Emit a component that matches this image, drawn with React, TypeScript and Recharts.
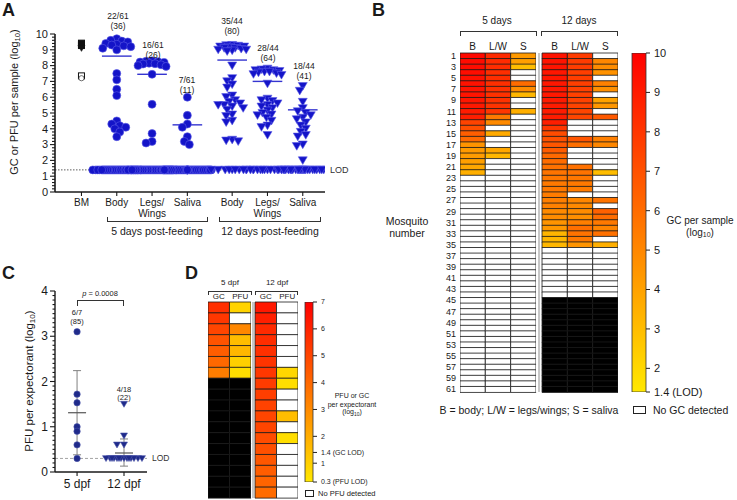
import React from "react";
import {
  ScatterChart,
  Scatter,
  XAxis,
  YAxis,
  ReferenceLine,
  ErrorBar,
  BarChart,
  Bar,
  Cell,
} from "recharts";

const FONT = '"Liberation Sans", Arial, Helvetica, sans-serif';
const INK = "#1a1a1a";
const BLUE = "#1414c8";
const NAVY = "#1f2a8a";

// ---------- Panel A : GC or PFU per sample (log10) ----------
const aLabels = ["BM", "Body", "Legs/\nWings", "Saliva", "Body", "Legs/\nWings", "Saliva"];
const aPos = [0, 1, 2, 3, 4.27, 5.27, 6.27];
const aLod = 1.4;
const bmFilledSquare = [9.42, 9.35, 9.27];
const bmFilledTri = [9.1];
const bmOpenSquare = [7.35];
const bmOpenCircle = [7.2];
const body5 = [9.7, 9.6, 9.55, 9.5, 9.4, 9.35, 9.3, 9.25, 9.2, 9.1, 9.0, 7.5, 7.1, 6.5, 6.1, 4.5, 4.3, 4.2, 4.1, 4.0, 3.8, 3.5];
const legs5 = [8.3, 8.28, 8.25, 8.22, 8.2, 8.15, 8.12, 8.1, 8.05, 8.0, 7.95, 7.45, 5.55, 3.7, 3.2, 3.1];
const saliva5 = [6.0, 4.85, 4.3, 4.1, 3.5, 3.2, 3.0];
const body12 = [9.3, 9.28, 9.25, 9.2, 9.2, 9.15, 9.1, 9.1, 9.05, 9.0, 9.0, 8.95, 8.9, 8.0, 7.2, 7.0, 6.8, 6.6, 6.1, 6.0, 5.8, 5.7, 5.6, 5.5, 5.5, 5.4, 5.3, 5.2, 4.9, 4.8, 4.5, 4.4, 3.3, 3.25, 3.2];
const legs12 = [7.8, 7.75, 7.7, 7.7, 7.65, 7.6, 7.55, 7.5, 7.45, 7.4, 7.6, 6.85, 5.9, 5.8, 5.75, 5.6, 5.5, 5.4, 5.3, 5.15, 5.0, 4.9, 4.85, 4.7, 4.5, 4.2, 4.1, 3.6];
const saliva12 = [6.7, 6.4, 5.7, 5.3, 5.1, 5.0, 4.85, 4.7, 4.6, 4.4, 4.2, 4.0, 3.8, 3.6, 3.5, 3.0, 2.9, 2.0];
const aLodCounts = [39, 45, 54, 9, 16, 26];
const aMeans = [8.6, 7.45, 4.25, 8.35, 7.0, 5.2];
const aPositive = ["22/61", "16/61", "7/61", "35/44", "28/44", "18/44"];
const aPercent = ["(36)", "(26)", "(11)", "(80)", "(64)", "(41)"];

// ---------- Panel B : heat map, GC per sample (log10) ----------
const bHeaders = ["B", "L/W", "S", "B", "L/W", "S"];
const bRows = 61;
const bTested = [61, 61, 61, 44, 44, 44];
const hmBody5 = [9.7, 9.6, 9.55, 9.5, 9.4, 9.35, 9.3, 9.25, 9.2, 9.1, 9.0, 8.9, 7.5, 7.1, 6.5, 6.1, 4.5, 4.3, 4.2, 4.1, 3.8, 3.5];
const hmLegs5 = [8.45, 8.4, 8.35, 8.3, 8.3, 8.25, 8.2, 8.2, 8.15, 8.1, 8.0, 5.5, 4.9, 0, 3.7, 0, 0, 3.8, 3.2];
const hmSaliva5 = [4.3, 4.1, 3.0, 0, 0, 6.0, 4.85, 3.2, 0, 0, 3.5];
const hmBody12 = [9.3, 9.28, 9.25, 9.2, 9.2, 9.15, 9.1, 9.1, 9.05, 9.0, 9.0, 8.95, 8.9, 8.0, 7.2, 7.0, 6.8, 6.6, 6.1, 6.0, 5.8, 5.7, 5.6, 5.5, 5.5, 5.4, 5.3, 5.2, 4.9, 4.8, 4.5, 4.4, 3.3, 3.25, 3.2];
const hmLegs12 = [7.8, 7.8, 7.75, 7.7, 7.7, 7.65, 7.6, 7.6, 7.55, 7.5, 7.45, 7.4, 0, 0, 0, 6.85, 5.9, 0, 0, 0, 5.8, 5.75, 5.6, 5.5, 5.4, 0, 5.0, 4.9, 4.8, 4.7, 5.3, 5.9, 5.75, 5.5, 4.5];
const hmSaliva12 = [0, 5.0, 4.8, 4.6, 0, 5.2, 4.7, 0, 4.0, 4.4, 0, 6.7, 0, 0, 0, 5.3, 5.0, 0, 0, 0, 0, 3.0, 0, 0, 0, 0, 5.7, 0, 6.4, 6.0, 5.5, 5.1, 5.8, 0, 3.5];
const bBarTicks = [1.4, 2, 3, 4, 5, 6, 7, 8, 9, 10];

// ---------- Panel C : PFU per expectorant (log10) ----------
const cLabels = ["5 dpf", "12 dpf"];
const cLod = 0.3;
const pfu5 = [3.1, 1.72, 1.53, 1.0, 0.9, 0.6, 0.3];
const pfu12 = [1.5, 0.8, 0.6, 0.6];
const pfu12LodCount = 14;
const cMeans = [1.31, 0.42];
const cSdLow = [0.93, 0.29];
const cSdHigh = [0.93, 0.31];

// ---------- Panel D : heat map, PFU or GC per expectorant ----------
const dHeaders = ["GC", "PFU", "GC", "PFU"];
const dRows = 18;
const dTested = [7, 7, 18, 18];
const dGc5 = [5.6, 5.4, 5.0, 4.6, 4.3, 4.0, 3.4];
const dPfu5 = [0.9, 0, 3.1, 1.53, 1.72, 1.0, 0.6];
const dGc12 = [6.3, 6.1, 5.8, 5.7, 5.6, 5.5, 5.4, 5.3, 5.2, 5.1, 5.0, 5.0, 4.8, 4.7, 4.5, 4.3, 4.1, 3.9];
const dPfu12 = [0, 0, 0, 0, 0, 0, 0.8, 0.6, 0, 0, 1.5, 0, 0.6];
const dBarTicks = [0.3, 1, 1.4, 2, 3, 4, 5, 6, 7];

// ---------- helpers ----------
// simple beeswarm: offsets in px, converted back to x units
function swarm(values: number[], xc: number, pxX: number, pxY: number, d: number, maxW: number) {
  const placed: { o: number; py: number }[] = [];
  return values.map((v) => {
    const py = v * pxY;
    let best = 0;
    let bestScore = -1;
    for (let k = 0; k <= 2 * maxW; k++) {
      const o = k % 2 === 0 ? k / 2 : -(k + 1) / 2;
      let minD = Infinity;
      for (const p of placed) {
        const dd = Math.hypot(o - p.o, py - p.py);
        if (dd < minD) minD = dd;
      }
      if (minD >= d) {
        best = o;
        break;
      }
      if (minD > bestScore) {
        bestScore = minD;
        best = o;
      }
    }
    placed.push({ o: best, py });
    return { x: xc + best / pxX, y: v };
  });
}

const fill = (n: number, v: number) => Array.from({ length: n }, () => v);

const colorB = (v: number) => {
  const g = Math.max(0, Math.min(232, Math.round((232 * (10 - v)) / 8.6)));
  return `rgb(255,${g},0)`;
};
const colorD = (v: number) => {
  const g = Math.max(0, Math.min(232, Math.round((232 * (7 - v)) / 6.7)));
  return `rgb(255,${g},0)`;
};

const T = ({ x, y, s = 10, a = "middle", children, style }: any) => (
  <div
    style={{
      position: "absolute",
      left: x,
      top: y,
      transform: `translate(${a === "middle" ? "-50%" : a === "end" ? "-100%" : "0"}, -50%)`,
      fontSize: s,
      lineHeight: 1,
      whiteSpace: "nowrap",
      color: INK,
      ...style,
    }}
  >
    {children}
  </div>
);

const VT = ({ x, y, s = 11, children }: any) => (
  <div
    style={{
      position: "absolute",
      left: x,
      top: y,
      transform: "translate(-50%, -50%) rotate(-90deg)",
      fontSize: s,
      lineHeight: 1,
      whiteSpace: "nowrap",
      color: INK,
    }}
  >
    {children}
  </div>
);

const Bracket = ({ x1, x2, y, h = 5, up = false }: any) => (
  <div
    style={{
      position: "absolute",
      left: x1,
      top: up ? y - h : y,
      width: x2 - x1,
      height: h,
      boxSizing: "border-box",
      borderLeft: "1.3px solid #333",
      borderRight: "1.3px solid #333",
      borderTop: up ? "none" : "1.3px solid #333",
      borderBottom: up ? "1.3px solid #333" : "none",
    }}
  />
);

const Letter = ({ x, y, children }: any) => (
  <div style={{ position: "absolute", left: x, top: y, fontSize: 18, fontWeight: 700, lineHeight: 1.1 }}>{children}</div>
);

const sub = (t: string) => <sub style={{ fontSize: "0.7em", verticalAlign: "-0.25em" }}>{t}</sub>;

// ---------- shapes ----------
const dot = (r: number, f: string, s: string) => (p: any) => (
  <circle cx={p.cx} cy={p.cy} r={r} fill={f} stroke={s} strokeWidth={0.6} />
);
const triDown = (w: number, f: string, s: string) => (p: any) => (
  <path
    d={`M${p.cx - w / 2},${p.cy - w * 0.4}L${p.cx + w / 2},${p.cy - w * 0.4}L${p.cx},${p.cy + w * 0.45}Z`}
    fill={f}
    stroke={s}
    strokeWidth={0.6}
  />
);
const square = (w: number, f: string, s: string) => (p: any) => (
  <rect x={p.cx - w / 2} y={p.cy - w / 2} width={w} height={w} fill={f} stroke={s} strokeWidth={1} />
);

const yTick = (major: number, minor: number, fs: number) => (p: any) => {
  const v = p.payload.value;
  const isMajor = Math.abs(v - Math.round(v)) < 1e-6;
  return (
    <g>
      <line x1={p.x - (isMajor ? major : minor)} x2={p.x} y1={p.y} y2={p.y} stroke={INK} strokeWidth={1.1} />
      {isMajor && (
        <text x={p.x - major - 2} y={p.y} dy="0.35em" textAnchor="end" fontSize={fs} fill={INK} fontFamily={FONT}>
          {Math.round(v)}
        </text>
      )}
    </g>
  );
};

// ---------- Panel A ----------
const A_PX_X = 270 / 7.65;
const A_PX_Y = 15.8;
const aGroups = [body5, legs5, saliva5, body12, legs12, saliva12];
const aPoints = aGroups.map((vals, i) =>
  swarm([...vals].sort((p, q) => q - p), aPos[i + 1], A_PX_X, A_PX_Y, 5.5, 14).concat(
    swarm(fill(aLodCounts[i], aLod), aPos[i + 1], A_PX_X, A_PX_Y, 7, 24)
  )
);
const aTicks = Array.from({ length: 51 }, (_, i) => Math.round(i * 2) / 10);

const XTickA = (p: any) => {
  const idx = aPos.findIndex((v) => Math.abs(v - p.payload.value) < 1e-6);
  const lines = (aLabels[idx] || "").split("\n");
  return (
    <g>
      <line x1={p.x} x2={p.x} y1={p.y} y2={p.y + 4} stroke={INK} strokeWidth={1.1} />
      <text x={p.x} y={p.y + 14} textAnchor="middle" fontSize={10} fill={INK} fontFamily={FONT}>
        {lines.map((l: string, i: number) => (
          <tspan key={i} x={p.x} dy={i === 0 ? 0 : 10.5}>
            {l}
          </tspan>
        ))}
      </text>
    </g>
  );
};

function PanelA() {
  return (
    <div style={{ position: "absolute", left: 0, top: 0 }}>
      <ScatterChart width={370} height={250} margin={{ top: 34, right: 45, bottom: 38, left: 25 }}>
        <XAxis
          type="number"
          dataKey="x"
          domain={[-0.75, 6.9]}
          ticks={aPos}
          interval={0}
          tick={XTickA}
          tickSize={0}
          tickMargin={0}
          height={20}
          tickLine={false}
          axisLine={{ stroke: INK, strokeWidth: 1.6 }}
          allowDataOverflow
        />
        <YAxis
          type="number"
          dataKey="y"
          domain={[0, 10]}
          ticks={aTicks}
          interval={0}
          tick={yTick(5, 3, 11)}
          tickSize={0}
          tickMargin={0}
          width={30}
          tickLine={false}
          axisLine={{ stroke: INK, strokeWidth: 1.6 }}
          allowDataOverflow
        />
        <ReferenceLine
          y={aLod}
          stroke="#333"
          strokeDasharray="1.5 1.5"
          strokeWidth={0.8}
          label={{ value: "LOD", position: "right", fontSize: 9, fill: "#333" }}
        />
        <Scatter data={bmFilledSquare.map((y) => ({ x: aPos[0], y }))} shape={square(6, "#111", "#111")} isAnimationActive={false} />
        <Scatter data={bmFilledTri.map((y) => ({ x: aPos[0], y }))} shape={triDown(7, "#111", "#111")} isAnimationActive={false} />
        <Scatter data={bmOpenSquare.map((y) => ({ x: aPos[0], y }))} shape={square(6, "#fff", "#111")} isAnimationActive={false} />
        <Scatter data={bmOpenCircle.map((y) => ({ x: aPos[0], y }))} shape={dot(2.6, "#fff", "#111")} isAnimationActive={false} />
        {aPoints.map((pts, i) => (
          <Scatter
            key={i}
            data={pts}
            shape={i < 3 ? dot(4, BLUE, "#5a5ae6") : triDown(9, BLUE, "#5a5ae6")}
            isAnimationActive={false}
          />
        ))}
        {aMeans.map((m, i) => (
          <ReferenceLine
            key={"m" + i}
            segment={[
              { x: aPos[i + 1] - 0.42, y: m },
              { x: aPos[i + 1] + 0.42, y: m },
            ]}
            stroke="#3535d0"
            strokeWidth={1.4}
          />
        ))}
      </ScatterChart>
    </div>
  );
}

// ---------- Panel C ----------
const C_PX_X = 47;
const C_PX_Y = 45.25;
const c5Points = pfu5.map((y) => ({ x: 0, y }));
const c12Points = swarm(pfu12, 1, C_PX_X, C_PX_Y, 6.5, 10).concat(
  swarm(fill(pfu12LodCount, cLod), 1, C_PX_X, C_PX_Y, 6.5, 18)
);
const cStats = cMeans.map((m, i) => ({ x: i, y: m, sd: [cSdLow[i], cSdHigh[i]] }));
const cTicks = Array.from({ length: 41 }, (_, i) => Math.round(i) / 10);

const XTickC = (p: any) => (
  <g>
    <line x1={p.x} x2={p.x} y1={p.y} y2={p.y + 4} stroke={INK} strokeWidth={1.1} />
    <text x={p.x} y={p.y + 16} textAnchor="middle" fontSize={12} fill={INK} fontFamily={FONT}>
      {cLabels[Math.round(p.payload.value)]}
    </text>
  </g>
);

function PanelC() {
  return (
    <div style={{ position: "absolute", left: 0, top: 250 }}>
      <ScatterChart width={185} height={250} margin={{ top: 41, right: 38, bottom: 8, left: 30 }}>
        <XAxis
          type="number"
          dataKey="x"
          domain={[-0.47, 1.49]}
          ticks={[0, 1]}
          interval={0}
          tick={XTickC}
          tickSize={0}
          tickMargin={0}
          height={20}
          tickLine={false}
          axisLine={{ stroke: INK, strokeWidth: 1.4 }}
          allowDataOverflow
        />
        <YAxis
          type="number"
          dataKey="y"
          domain={[0, 4]}
          ticks={cTicks}
          interval={0}
          tick={yTick(5, 2.5, 12)}
          tickSize={0}
          tickMargin={0}
          width={25}
          tickLine={false}
          axisLine={{ stroke: INK, strokeWidth: 1.4 }}
          allowDataOverflow
        />
        <ReferenceLine
          y={cLod}
          stroke="#9a9a9a"
          strokeDasharray="3 2"
          strokeWidth={0.9}
          label={{ value: "LOD", position: "right", fontSize: 8.5, fill: "#333" }}
        />
        <Scatter data={cStats} shape={(p: any) => <line x1={p.cx - 9} x2={p.cx + 9} y1={p.cy} y2={p.cy} stroke="#555" strokeWidth={1.2} />} isAnimationActive={false}>
          <ErrorBar dataKey="sd" direction="y" width={4} stroke="#808080" strokeWidth={1} />
        </Scatter>
        <Scatter data={c5Points} shape={dot(3.2, NAVY, "#4b55aa")} isAnimationActive={false} />
        <Scatter data={c12Points} shape={triDown(7, NAVY, "#4b55aa")} isAnimationActive={false} />
      </ScatterChart>
    </div>
  );
}

// ---------- heat map + colour bar ----------
function Heatmap({ left, top, width, height, margin, nRows, cols, tested, gap, headers, color, yW, rowFont, headFont, headH, showRows }: any) {
  const keys = cols.map((_: any, i: number) => "c" + i);
  const data = Array.from({ length: nRows }, (_, r) => {
    const o: any = { row: r + 1, gap };
    keys.forEach((k: string) => (o[k] = 1));
    return o;
  });
  const half = cols.length / 2;
  const hTicks = cols.map((_: any, i: number) => i + 0.5 + (i >= half ? gap : 0));
  const cellFill = (ci: number, r: number) => {
    if (r + 1 > tested[ci]) return "#000";
    const v = cols[ci][r];
    return v ? color(v) : "#fff";
  };
  const bars = keys.flatMap((k: string, ci: number) => {
    const b = (
      <Bar key={k} dataKey={k} stackId="s" isAnimationActive={false}>
        {data.map((_, r) => (
          <Cell key={r} fill={cellFill(ci, r)} stroke="#1a1a1a" strokeWidth={0.8} />
        ))}
      </Bar>
    );
    return ci === half
      ? [<Bar key="gap" dataKey="gap" stackId="s" fill="#fff" isAnimationActive={false} />, b]
      : [b];
  });
  return (
    <div style={{ position: "absolute", left, top }}>
      <BarChart layout="vertical" width={width} height={height} data={data} margin={margin} barCategoryGap={0}>
        <XAxis
          type="number"
          orientation="top"
          domain={[0, cols.length + gap]}
          ticks={hTicks}
          interval={0}
          tickFormatter={(v: number) => headers[hTicks.findIndex((t: number) => Math.abs(t - v) < 1e-6)]}
          axisLine={false}
          tickLine={false}
          tickSize={0}
          tickMargin={3}
          height={headH}
          tick={{ fontSize: headFont, fill: INK, fontFamily: FONT }}
          allowDataOverflow
        />
        <YAxis
          type="category"
          dataKey="row"
          hide={!showRows}
          width={yW}
          interval={0}
          tickFormatter={(v: number) => (v % 2 ? String(v) : "")}
          axisLine={false}
          tickLine={false}
          tickSize={0}
          tickMargin={4}
          tick={{ fontSize: rowFont, fill: INK, fontFamily: FONT }}
        />
        {bars}
        <ReferenceLine x={half + gap / 2} stroke="#b5b5b5" strokeWidth={1.5} />
      </BarChart>
    </div>
  );
}

function ColorBar({ id, left, top, width, height, margin, lo, hi, ticks, fmt, c0, c1, fs, yW }: any) {
  const tick = (p: any) => (
    <text x={p.x} y={p.y} dy="0.35em" textAnchor="start" fontSize={fs} fill={INK} fontFamily={FONT}>
      {fmt(p.payload.value)}
    </text>
  );
  return (
    <div style={{ position: "absolute", left, top }}>
      <BarChart width={width} height={height} data={[{ k: "c", r: [lo, hi] }]} margin={margin} barCategoryGap={0}>
        <defs>
          <linearGradient id={id} x1="0" y1="0" x2="0" y2="1">
            <stop offset="0" stopColor={c0} />
            <stop offset="1" stopColor={c1} />
          </linearGradient>
        </defs>
        <XAxis dataKey="k" type="category" hide />
        <YAxis
          orientation="right"
          type="number"
          domain={[lo, hi]}
          ticks={ticks}
          interval={0}
          width={yW}
          axisLine={false}
          tickSize={4}
          tickMargin={4}
          tickLine={{ stroke: "#222" }}
          tick={tick}
          allowDataOverflow
        />
        <Bar dataKey="r" fill={`url(#${id})`} stroke="#333" strokeWidth={0.8} isAnimationActive={false} />
      </BarChart>
    </div>
  );
}

export default function App() {
  return (
    <div
      style={{
        position: "absolute",
        left: 0,
        top: 0,
        width: 737,
        height: 500,
        overflow: "hidden",
        background: "#fff",
        fontFamily: FONT,
        color: INK,
      }}
    >
      {/* Panel A */}
      <Letter x={2} y={1}>A</Letter>
      <PanelA />
      <VT x={15} y={102} s={11}>
        GC or PFU per sample (log{sub("10")})
      </VT>
      {aPositive.map((t, i) => {
        const xs = [118, 153, 187, 232, 268, 304];
        const ys = [16, 45, 80, 21, 48, 66];
        return (
          <React.Fragment key={i}>
            <T x={xs[i]} y={ys[i]} s={8.5}>{t}</T>
            <T x={xs[i]} y={ys[i] + 10} s={8.5}>{aPercent[i]}</T>
          </React.Fragment>
        );
      })}
      <Bracket x1={107} x2={208} y={222} h={5} up />
      <Bracket x1={219} x2={321} y={222} h={5} up />
      <T x={157} y={231} s={10.5}>5 days post-feeding</T>
      <T x={270} y={231} s={10.5}>12 days post-feeding</T>

      {/* Panel B */}
      <Letter x={372} y={1}>B</Letter>
      <T x={497} y={21} s={10}>5 days</T>
      <T x={579} y={21} s={10}>12 days</T>
      <Bracket x1={460} x2={537} y={31} h={5} />
      <Bracket x1={541} x2={618} y={31} h={5} />
      <Heatmap
        left={420}
        top={30}
        width={210}
        height={370}
        margin={{ top: 9, right: 12, bottom: 8, left: 15 }}
        nRows={bRows}
        cols={[hmBody5, hmLegs5, hmSaliva5, hmBody12, hmLegs12, hmSaliva12]}
        tested={bTested}
        gap={0.24}
        headers={bHeaders}
        color={colorB}
        yW={25}
        rowFont={9}
        headFont={10}
        headH={14}
        showRows
      />
      <T x={407} y={221} s={10.5}>Mosquito</T>
      <T x={407} y={233} s={10.5}>number</T>
      <ColorBar
        id="gradB"
        left={622}
        top={45}
        width={110}
        height={355}
        margin={{ top: 8, right: 16, bottom: 8, left: 10 }}
        lo={1.4}
        hi={10}
        ticks={bBarTicks}
        fmt={(v: number) => (v === 1.4 ? "1.4 (LOD)" : String(v))}
        c0={colorB(10)}
        c1={colorB(1.4)}
        fs={11}
        yW={70}
      />
      <T x={700} y={221} s={10}>GC per sample</T>
      <T x={700} y={233} s={10}>(log{sub("10")})</T>
      <T x={529} y={410} s={10.5}>B = body; L/W = legs/wings; S = saliva</T>
      <div style={{ position: "absolute", left: 633, top: 406, width: 13, height: 8, border: "1px solid #222", boxSizing: "border-box" }} />
      <T x={653} y={410} s={10.5} a="start">No GC detected</T>

      {/* Panel C */}
      <Letter x={2} y={264}>C</Letter>
      <PanelC />
      <VT x={31} y={381} s={11.5}>
        PFU per expectorant (log{sub("10")})
      </VT>
      <T x={100} y={294} s={7.5}>
        <i>p</i> = 0.0008
      </T>
      <Bracket x1={77} x2={124} y={300} h={6} />
      <T x={77} y={313} s={7.5}>6/7</T>
      <T x={77} y={322} s={7.5}>(85)</T>
      <T x={124} y={390} s={7.5}>4/18</T>
      <T x={124} y={398} s={7.5}>(22)</T>

      {/* Panel D */}
      <Letter x={185} y={264}>D</Letter>
      <T x={230} y={283} s={8}>5 dpf</T>
      <T x={277} y={283} s={8}>12 dpf</T>
      <Bracket x1={208} x2={252} y={291} h={4} />
      <Bracket x1={255} x2={298} y={291} h={4} />
      <Heatmap
        left={180}
        top={285}
        width={130}
        height={215}
        margin={{ top: 7, right: 12, bottom: 2, left: 28 }}
        nRows={dRows}
        cols={[dGc5, dPfu5, dGc12, dPfu12]}
        tested={dTested}
        gap={0.19}
        headers={dHeaders}
        color={colorD}
        yW={0}
        rowFont={8}
        headFont={8}
        headH={10}
        showRows={false}
      />
      <ColorBar
        id="gradD"
        left={297}
        top={296}
        width={80}
        height={192}
        margin={{ top: 6, right: 5, bottom: 6, left: 8 }}
        lo={0.3}
        hi={7}
        ticks={dBarTicks}
        fmt={(v: number) => (v === 0.3 ? "0.3 (PFU LOD)" : v === 1.4 ? "1.4 (GC LOD)" : String(v))}
        c0={colorD(7)}
        c1={colorD(0.3)}
        fs={7}
        yW={59}
      />
      <T x={352} y={395} s={7}>PFU or GC</T>
      <T x={352} y={404} s={7}>per expectorant</T>
      <T x={352} y={413} s={7}>(log{sub("10")})</T>
      <div style={{ position: "absolute", left: 305, top: 490, width: 9, height: 7, border: "1px solid #222", boxSizing: "border-box" }} />
      <T x={318} y={494} s={7.5} a="start">No PFU detected</T>
    </div>
  );
}
